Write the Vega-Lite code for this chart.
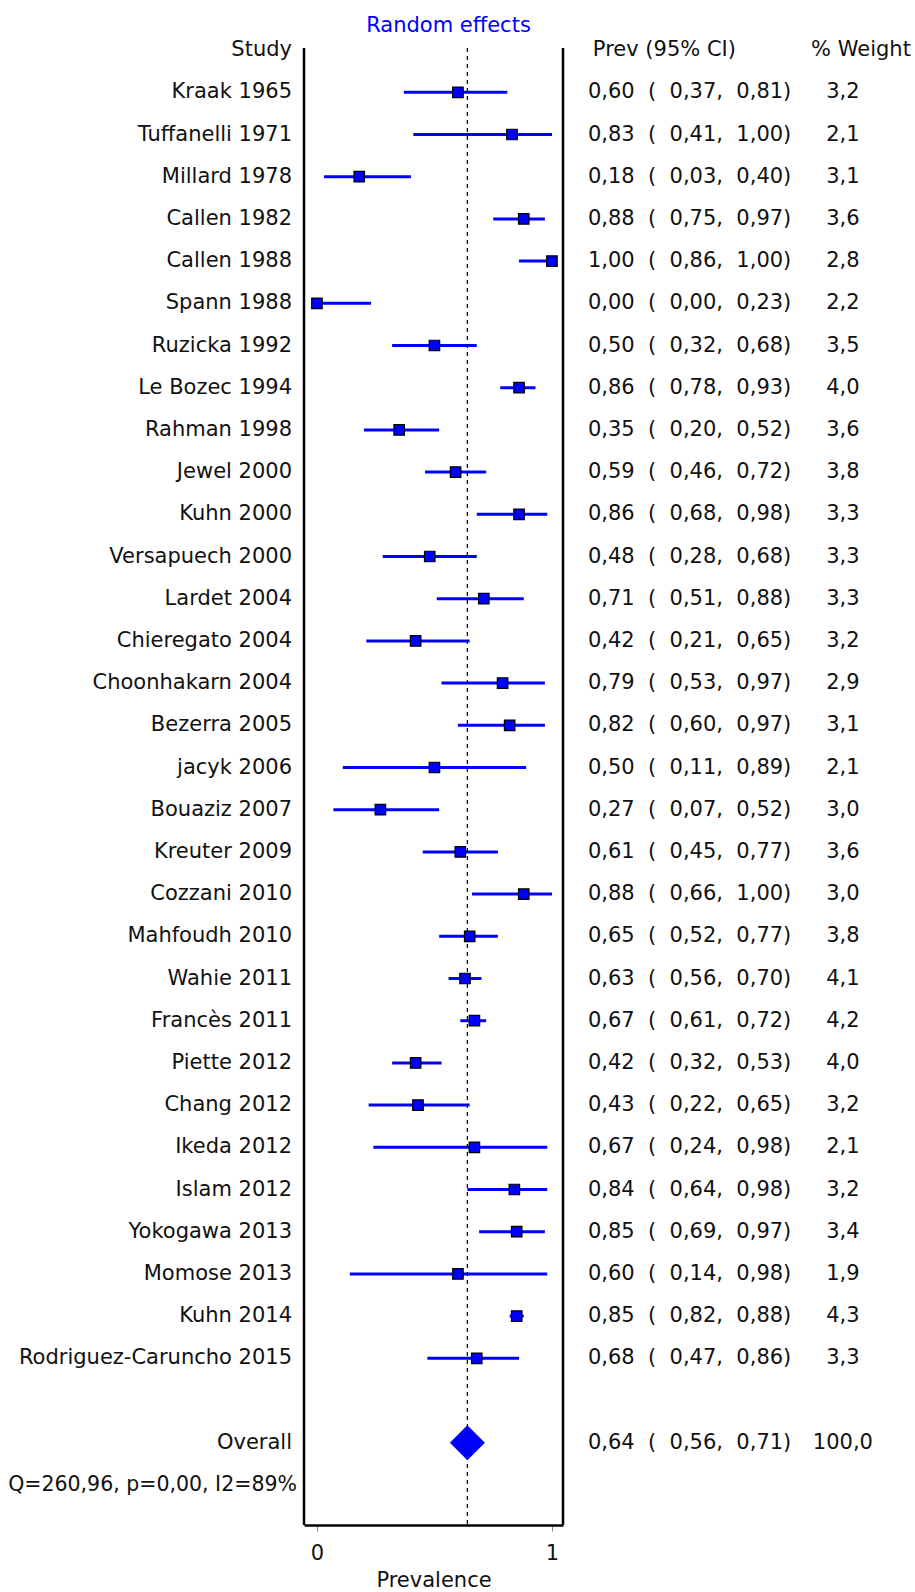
{
  "$schema": "https://vega.github.io/schema/vega-lite/v6.json",
  "width": 259,
  "height": 1477,
  "autosize": {"type": "none"},
  "padding": {"left": 304, "top": 48, "right": 352, "bottom": 67},
  "background": "white",
  "config": {
    "view": {"stroke": null},
    "text": {"font": "DejaVu Sans", "fontSize": 21, "color": "#111111", "baseline": "middle"}
  },
  "title": {"text": "Random effects", "color": "#0000ff", "font": "DejaVu Sans", "fontSize": 21, "fontWeight": "normal", "anchor": "middle", "frame": "group", "dx": 15, "offset": 3},
  "datasets": {
    "studies": [
      {"label": "Kraak 1965", "prev": 0.60, "lo": 0.37, "hi": 0.81, "ci": "0,60\u00a0\u00a0(\u00a0\u00a00,37,\u00a0\u00a00,81)", "wt": "3,2"},
      {"label": "Tuffanelli 1971", "prev": 0.83, "lo": 0.41, "hi": 1.00, "ci": "0,83\u00a0\u00a0(\u00a0\u00a00,41,\u00a0\u00a01,00)", "wt": "2,1"},
      {"label": "Millard 1978", "prev": 0.18, "lo": 0.03, "hi": 0.40, "ci": "0,18\u00a0\u00a0(\u00a0\u00a00,03,\u00a0\u00a00,40)", "wt": "3,1"},
      {"label": "Callen 1982", "prev": 0.88, "lo": 0.75, "hi": 0.97, "ci": "0,88\u00a0\u00a0(\u00a0\u00a00,75,\u00a0\u00a00,97)", "wt": "3,6"},
      {"label": "Callen 1988", "prev": 1.00, "lo": 0.86, "hi": 1.00, "ci": "1,00\u00a0\u00a0(\u00a0\u00a00,86,\u00a0\u00a01,00)", "wt": "2,8"},
      {"label": "Spann 1988", "prev": 0.00, "lo": 0.00, "hi": 0.23, "ci": "0,00\u00a0\u00a0(\u00a0\u00a00,00,\u00a0\u00a00,23)", "wt": "2,2"},
      {"label": "Ruzicka 1992", "prev": 0.50, "lo": 0.32, "hi": 0.68, "ci": "0,50\u00a0\u00a0(\u00a0\u00a00,32,\u00a0\u00a00,68)", "wt": "3,5"},
      {"label": "Le Bozec 1994", "prev": 0.86, "lo": 0.78, "hi": 0.93, "ci": "0,86\u00a0\u00a0(\u00a0\u00a00,78,\u00a0\u00a00,93)", "wt": "4,0"},
      {"label": "Rahman 1998", "prev": 0.35, "lo": 0.20, "hi": 0.52, "ci": "0,35\u00a0\u00a0(\u00a0\u00a00,20,\u00a0\u00a00,52)", "wt": "3,6"},
      {"label": "Jewel 2000", "prev": 0.59, "lo": 0.46, "hi": 0.72, "ci": "0,59\u00a0\u00a0(\u00a0\u00a00,46,\u00a0\u00a00,72)", "wt": "3,8"},
      {"label": "Kuhn 2000", "prev": 0.86, "lo": 0.68, "hi": 0.98, "ci": "0,86\u00a0\u00a0(\u00a0\u00a00,68,\u00a0\u00a00,98)", "wt": "3,3"},
      {"label": "Versapuech 2000", "prev": 0.48, "lo": 0.28, "hi": 0.68, "ci": "0,48\u00a0\u00a0(\u00a0\u00a00,28,\u00a0\u00a00,68)", "wt": "3,3"},
      {"label": "Lardet 2004", "prev": 0.71, "lo": 0.51, "hi": 0.88, "ci": "0,71\u00a0\u00a0(\u00a0\u00a00,51,\u00a0\u00a00,88)", "wt": "3,3"},
      {"label": "Chieregato 2004", "prev": 0.42, "lo": 0.21, "hi": 0.65, "ci": "0,42\u00a0\u00a0(\u00a0\u00a00,21,\u00a0\u00a00,65)", "wt": "3,2"},
      {"label": "Choonhakarn 2004", "prev": 0.79, "lo": 0.53, "hi": 0.97, "ci": "0,79\u00a0\u00a0(\u00a0\u00a00,53,\u00a0\u00a00,97)", "wt": "2,9"},
      {"label": "Bezerra 2005", "prev": 0.82, "lo": 0.60, "hi": 0.97, "ci": "0,82\u00a0\u00a0(\u00a0\u00a00,60,\u00a0\u00a00,97)", "wt": "3,1"},
      {"label": "jacyk 2006", "prev": 0.50, "lo": 0.11, "hi": 0.89, "ci": "0,50\u00a0\u00a0(\u00a0\u00a00,11,\u00a0\u00a00,89)", "wt": "2,1"},
      {"label": "Bouaziz 2007", "prev": 0.27, "lo": 0.07, "hi": 0.52, "ci": "0,27\u00a0\u00a0(\u00a0\u00a00,07,\u00a0\u00a00,52)", "wt": "3,0"},
      {"label": "Kreuter 2009", "prev": 0.61, "lo": 0.45, "hi": 0.77, "ci": "0,61\u00a0\u00a0(\u00a0\u00a00,45,\u00a0\u00a00,77)", "wt": "3,6"},
      {"label": "Cozzani 2010", "prev": 0.88, "lo": 0.66, "hi": 1.00, "ci": "0,88\u00a0\u00a0(\u00a0\u00a00,66,\u00a0\u00a01,00)", "wt": "3,0"},
      {"label": "Mahfoudh 2010", "prev": 0.65, "lo": 0.52, "hi": 0.77, "ci": "0,65\u00a0\u00a0(\u00a0\u00a00,52,\u00a0\u00a00,77)", "wt": "3,8"},
      {"label": "Wahie 2011", "prev": 0.63, "lo": 0.56, "hi": 0.70, "ci": "0,63\u00a0\u00a0(\u00a0\u00a00,56,\u00a0\u00a00,70)", "wt": "4,1"},
      {"label": "Francès 2011", "prev": 0.67, "lo": 0.61, "hi": 0.72, "ci": "0,67\u00a0\u00a0(\u00a0\u00a00,61,\u00a0\u00a00,72)", "wt": "4,2"},
      {"label": "Piette 2012", "prev": 0.42, "lo": 0.32, "hi": 0.53, "ci": "0,42\u00a0\u00a0(\u00a0\u00a00,32,\u00a0\u00a00,53)", "wt": "4,0"},
      {"label": "Chang 2012", "prev": 0.43, "lo": 0.22, "hi": 0.65, "ci": "0,43\u00a0\u00a0(\u00a0\u00a00,22,\u00a0\u00a00,65)", "wt": "3,2"},
      {"label": "Ikeda 2012", "prev": 0.67, "lo": 0.24, "hi": 0.98, "ci": "0,67\u00a0\u00a0(\u00a0\u00a00,24,\u00a0\u00a00,98)", "wt": "2,1"},
      {"label": "Islam 2012", "prev": 0.84, "lo": 0.64, "hi": 0.98, "ci": "0,84\u00a0\u00a0(\u00a0\u00a00,64,\u00a0\u00a00,98)", "wt": "3,2"},
      {"label": "Yokogawa 2013", "prev": 0.85, "lo": 0.69, "hi": 0.97, "ci": "0,85\u00a0\u00a0(\u00a0\u00a00,69,\u00a0\u00a00,97)", "wt": "3,4"},
      {"label": "Momose 2013", "prev": 0.60, "lo": 0.14, "hi": 0.98, "ci": "0,60\u00a0\u00a0(\u00a0\u00a00,14,\u00a0\u00a00,98)", "wt": "1,9"},
      {"label": "Kuhn 2014", "prev": 0.85, "lo": 0.82, "hi": 0.88, "ci": "0,85\u00a0\u00a0(\u00a0\u00a00,82,\u00a0\u00a00,88)", "wt": "4,3"},
      {"label": "Rodriguez-Caruncho 2015", "prev": 0.68, "lo": 0.47, "hi": 0.86, "ci": "0,68\u00a0\u00a0(\u00a0\u00a00,47,\u00a0\u00a00,86)", "wt": "3,3"}
    ],
    "overall": [
      {"label": "Overall", "prev": 0.64, "lo": 0.56, "hi": 0.71, "ci": "0,64\u00a0\u00a0(\u00a0\u00a00,56,\u00a0\u00a00,71)", "wt": "100,0"}
    ],
    "extra": [
      {"label": "Study"},
      {"label": "Overall"}
    ],
    "stats": [
      {"label": "Q=260,96, p=0,00, I2=89%"}
    ],
    "header": [
      {"label": "Study", "prevhead": "Prev (95% CI)", "wthead": "% Weight"}
    ]
  },
  "layer": [
    {
      "data": {"name": "studies"},
      "mark": {"type": "rule", "color": "#0000ff", "strokeWidth": 3},
      "encoding": {
        "x": {"field": "lo", "type": "quantitative",
              "scale": {"type": "linear", "domain": [-0.055, 1.047], "nice": false, "zero": false},
              "axis": {"values": [0, 1], "format": "d", "title": "Prevalence", "grid": false,
                       "domain": true, "domainColor": "black", "domainWidth": 2.5,
                       "ticks": true, "tickColor": "#888888", "tickSize": 6, "tickWidth": 1,
                       "labelFont": "DejaVu Sans", "labelFontSize": 21, "labelColor": "#111111", "labelPadding": 11,
                       "titleFont": "DejaVu Sans", "titleFontSize": 21, "titleFontWeight": "normal", "titleColor": "#111111", "titlePadding": 6}},
        "x2": {"field": "hi"},
        "y": {"field": "label", "type": "nominal", "axis": null,
              "scale": {"type": "point", "padding": 0.5, "align": 0.05, "domain": ["Study","Kraak 1965","Tuffanelli 1971","Millard 1978","Callen 1982","Callen 1988","Spann 1988","Ruzicka 1992","Le Bozec 1994","Rahman 1998","Jewel 2000","Kuhn 2000","Versapuech 2000","Lardet 2004","Chieregato 2004","Choonhakarn 2004","Bezerra 2005","jacyk 2006","Bouaziz 2007","Kreuter 2009","Cozzani 2010","Mahfoudh 2010","Wahie 2011","Francès 2011","Piette 2012","Chang 2012","Ikeda 2012","Islam 2012","Yokogawa 2013","Momose 2013","Kuhn 2014","Rodriguez-Caruncho 2015","gap","Overall","Q=260,96, p=0,00, I2=89%"]}}
      }
    },
    {
      "data": {"values": [{}]},
      "mark": {"type": "rule", "color": "black", "strokeWidth": 1.2, "strokeDash": [4, 4]},
      "encoding": {"x": {"datum": 0.64, "type": "quantitative"}}
    },
    {
      "data": {"values": [{}]},
      "mark": {"type": "rule", "color": "black", "strokeWidth": 2.5},
      "encoding": {"x": {"datum": -0.055, "type": "quantitative"}}
    },
    {
      "data": {"values": [{}]},
      "mark": {"type": "rule", "color": "black", "strokeWidth": 2.5},
      "encoding": {"x": {"datum": 1.047, "type": "quantitative"}}
    },
    {
      "data": {"name": "studies"},
      "mark": {"type": "point", "shape": "square", "size": 110, "filled": true, "fill": "#0000ff", "stroke": "black", "strokeWidth": 1.2, "opacity": 1},
      "encoding": {
        "x": {"field": "prev", "type": "quantitative"},
        "y": {"field": "label", "type": "nominal"}
      }
    },
    {
      "data": {"name": "overall"},
      "mark": {"type": "point", "shape": "diamond", "size": 1225, "filled": true, "fill": "#0000ff", "strokeWidth": 0, "opacity": 1},
      "encoding": {
        "x": {"field": "prev", "type": "quantitative"},
        "y": {"field": "label", "type": "nominal"}
      }
    },
    {
      "data": {"name": "studies"},
      "mark": {"type": "text", "align": "right"},
      "encoding": {
        "x": {"datum": -0.106, "type": "quantitative"},
        "y": {"field": "label", "type": "nominal"},
        "text": {"field": "label"}
      }
    },
    {
      "data": {"name": "extra"},
      "mark": {"type": "text", "align": "right"},
      "encoding": {
        "x": {"datum": -0.106, "type": "quantitative"},
        "y": {"field": "label", "type": "nominal"},
        "text": {"field": "label"}
      }
    },
    {
      "data": {"name": "stats"},
      "mark": {"type": "text", "align": "right", "fontSize": 20.5},
      "encoding": {
        "x": {"datum": -0.085, "type": "quantitative"},
        "y": {"field": "label", "type": "nominal"},
        "text": {"field": "label"}
      }
    },
    {
      "data": {"name": "studies"},
      "mark": {"type": "text", "align": "left"},
      "encoding": {
        "x": {"datum": 1.153, "type": "quantitative"},
        "y": {"field": "label", "type": "nominal"},
        "text": {"field": "ci"}
      }
    },
    {
      "data": {"name": "overall"},
      "mark": {"type": "text", "align": "left"},
      "encoding": {
        "x": {"datum": 1.153, "type": "quantitative"},
        "y": {"field": "label", "type": "nominal"},
        "text": {"field": "ci"}
      }
    },
    {
      "data": {"name": "studies"},
      "mark": {"type": "text", "align": "center"},
      "encoding": {
        "x": {"datum": 2.238, "type": "quantitative"},
        "y": {"field": "label", "type": "nominal"},
        "text": {"field": "wt"}
      }
    },
    {
      "data": {"name": "overall"},
      "mark": {"type": "text", "align": "center"},
      "encoding": {
        "x": {"datum": 2.238, "type": "quantitative"},
        "y": {"field": "label", "type": "nominal"},
        "text": {"field": "wt"}
      }
    },
    {
      "data": {"name": "header"},
      "mark": {"type": "text", "align": "left"},
      "encoding": {
        "x": {"datum": 1.174, "type": "quantitative"},
        "y": {"field": "label", "type": "nominal"},
        "text": {"field": "prevhead"}
      }
    },
    {
      "data": {"name": "header"},
      "mark": {"type": "text", "align": "center"},
      "encoding": {
        "x": {"datum": 2.315, "type": "quantitative"},
        "y": {"field": "label", "type": "nominal"},
        "text": {"field": "wthead"}
      }
    }
  ]
}
